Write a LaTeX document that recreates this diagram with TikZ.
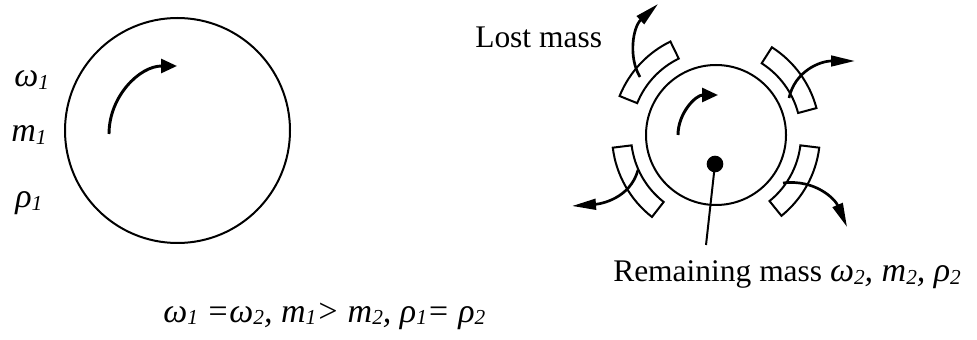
\documentclass[tikz,border=0pt]{standalone}
\usepackage{fontspec}
\setmainfont{Liberation Serif}
\usetikzlibrary{arrows.meta}
\newcommand{\lowsub}[1]{\raisebox{-0.15ex}{\fontsize{16}{16}\selectfont #1}}
\newcommand{\slant}{\fontsize{25.5}{28}\selectfont\itshape}

\begin{document}
\begin{tikzpicture}[x=0.75pt, y=0.75pt,
  outline/.style={line width=1.5pt},
  chunk/.style={line width=1.5pt, line join=miter},
  spin/.style={-{Triangle[length=12pt, width=10.5pt]}, line width=2.2pt},
  flow/.style={-{Triangle[length=18pt, width=8pt]}, line width=2pt},
  label/.style={font=\fontsize{23.6}{28}\selectfont, inner sep=0pt, anchor=base west},
]
\useasboundingbox (0,0) rectangle (977,339);

% whole body
\draw[outline] (177.5,208.5) circle (112.5);
\draw[spin] (109,205) arc (180:90:68);
\node[label] (omegaA) at (14,252) {\slant ω\lowsub{1}};
\node[label] (massA) at (11,197) {\slant m\lowsub{1}};
\node[label] (rhoA) at (15,131) {\slant ρ\lowsub{1}};

% remaining body
\draw[outline] (716,204) circle (70);
\draw[spin] (678,204) arc (180:90:40);
\node[circle, fill, inner sep=0pt, minimum size=12.5pt] (core) at (715,175) {};
\coordinate (pointer) at (706,94);
\draw[outline] (core.center) -- (pointer);

% lost pieces
\foreach \a/\b in {116/158, 15/57.5, 187/232, -51/-7} {
  \draw[chunk, shift={(716,204)}] (\a:85) arc (\a:\b:85) -- (\b:104) arc (\b:\a:104) -- cycle;
}
\draw[flow] (640,262) .. controls (628,282) and (633,312) .. (658,335);
\draw[flow] (789,241) .. controls (795,268) and (820,278) .. (855,278);
\draw[flow] (638,169) .. controls (630,140) and (600,135) .. (572,133);
\draw[flow] (783,156) .. controls (815,160) and (835,140) .. (847,112);

\node[label] (lost) at (475,291) {Lost mass};
\node[label] (remain) at (613,57) {Remaining mass {\slant ω\lowsub{2}, m\lowsub{2}, ρ\lowsub{2}}};
\node[label] (relation) at (163,17) {\slant ω\lowsub{1} =ω\lowsub{2}, m\lowsub{1}> m\lowsub{2}, ρ\lowsub{1}= ρ\lowsub{2}};
\end{tikzpicture}
\end{document}
